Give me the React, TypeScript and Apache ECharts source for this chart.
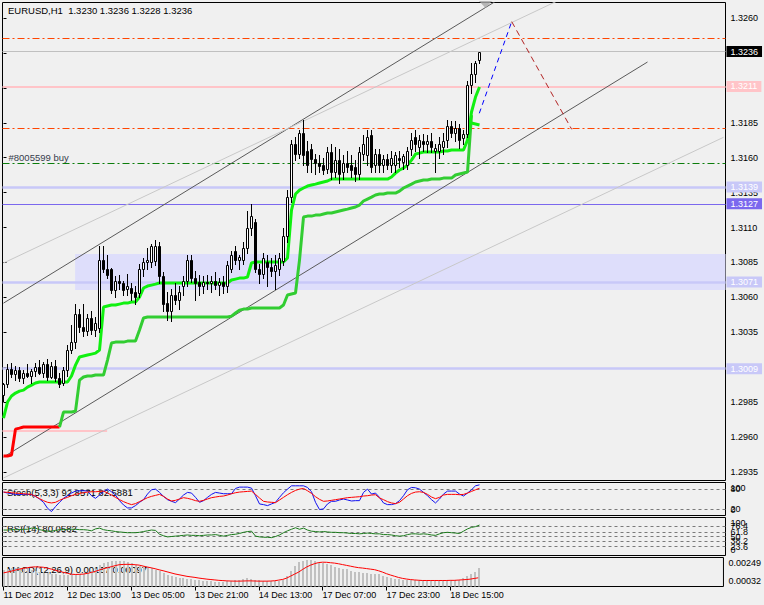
import React, { useEffect, useRef } from 'react';
import * as echarts from 'echarts';

// ---------------- data ----------------
const titleText = 'EURUSD,H1  1.3230 1.3236 1.3228 1.3236';
const stochTitle = 'Stoch(5,3,3) 92.8571 82.5881';
const rsiTitle = 'RSI(14) 80.0582';
const macdTitle = 'MACD(12,26,9) 0.00167 0.00097';

const timeLabelBars = [0, 16, 32, 48, 64, 80, 96, 112];
const timeLabels = ['11 Dec 2012', '12 Dec 13:00', '13 Dec 05:00', '13 Dec 21:00', '14 Dec 13:00', '17 Dec 07:00', '17 Dec 23:00', '18 Dec 15:00'];
const priceTickLabels = ['1.2935', '1.2960', '1.2985', '1.3010', '1.3035', '1.3060', '1.3085', '1.3110', '1.3135', '1.3160', '1.3185', '1.3210', '1.3235', '1.3260'];

const openP = [
  1.2990, 1.2998, 1.3009, 1.3005, 1.3008, 1.3002, 1.3006, 1.3004, 1.3007, 1.3010,
  1.3006, 1.3012, 1.3003, 1.3011, 1.3002, 1.2999, 1.3008, 1.3022, 1.3028, 1.3048,
  1.3039, 1.3036, 1.3045, 1.3037, 1.3038, 1.3087, 1.3080, 1.3080, 1.3065, 1.3072,
  1.3070, 1.3066, 1.3067, 1.3064, 1.3063, 1.3080, 1.3085, 1.3085, 1.3086, 1.3097,
  1.3075, 1.3056, 1.3050, 1.3062, 1.3058, 1.3068, 1.3072, 1.3087, 1.3074, 1.3071,
  1.3068, 1.3071, 1.3070, 1.3072, 1.3069, 1.3071, 1.3068, 1.3080, 1.3093, 1.3087,
  1.3087, 1.3095, 1.3110, 1.3114, 1.3080, 1.3077, 1.3085, 1.3082, 1.3079, 1.3080,
  1.3086, 1.3104, 1.3132, 1.3170, 1.3163, 1.3178, 1.3165, 1.3166, 1.3159, 1.3156,
  1.3155, 1.3152, 1.3164, 1.3150, 1.3158, 1.3150, 1.3156, 1.3155, 1.3153, 1.3148,
  1.3163, 1.3162, 1.3176, 1.3155, 1.3163, 1.3155, 1.3159, 1.3155, 1.3155, 1.3160,
  1.3157, 1.3155, 1.3166, 1.3175, 1.3168, 1.3172, 1.3170, 1.3172, 1.3165, 1.3165,
  1.3168, 1.3173, 1.3183, 1.3178, 1.3181, 1.3174, 1.3177, 1.3212, 1.3220, 1.3230,
];
const highP = [
  1.2999, 1.3012, 1.3013, 1.3011, 1.3010, 1.3008, 1.3012, 1.3009, 1.3013, 1.3015,
  1.3014, 1.3016, 1.3014, 1.3015, 1.3006, 1.3010, 1.3026, 1.3040, 1.3055, 1.3052,
  1.3055, 1.3048, 1.3050, 1.3046, 1.3097, 1.3097, 1.3090, 1.3081, 1.3075, 1.3076,
  1.3072, 1.3077, 1.3070, 1.3068, 1.3084, 1.3088, 1.3095, 1.3098, 1.3101, 1.3100,
  1.3078, 1.3064, 1.3066, 1.3070, 1.3068, 1.3075, 1.3090, 1.3090, 1.3079, 1.3076,
  1.3075, 1.3076, 1.3075, 1.3078, 1.3074, 1.3075, 1.3086, 1.3093, 1.3097, 1.3090,
  1.3100, 1.3122, 1.3127, 1.3116, 1.3084, 1.3092, 1.3090, 1.3088, 1.3090, 1.3092,
  1.3110, 1.3137, 1.3173, 1.3175, 1.3180, 1.3187, 1.3172, 1.3170, 1.3163, 1.3162,
  1.3160, 1.3168, 1.3170, 1.3168, 1.3166, 1.3162, 1.3165, 1.3162, 1.3158, 1.3168,
  1.3176, 1.3180, 1.3180, 1.3166, 1.3166, 1.3162, 1.3163, 1.3165, 1.3164, 1.3165,
  1.3163, 1.3168, 1.3178, 1.3180, 1.3176, 1.3177, 1.3176, 1.3178, 1.3170, 1.3175,
  1.3178, 1.3187, 1.3186, 1.3186, 1.3184, 1.3180, 1.3215, 1.3228, 1.3229, 1.3236,
];
const lowP = [
  1.2986, 1.2996, 1.3003, 1.3001, 1.3000, 1.2999, 1.3003, 1.2999, 1.3004, 1.3005,
  1.3003, 1.3001, 1.3002, 1.3000, 1.2996, 1.2997, 1.3004, 1.3020, 1.3024, 1.3035,
  1.3032, 1.3033, 1.3034, 1.3032, 1.3035, 1.3078, 1.3074, 1.3063, 1.3060, 1.3066,
  1.3062, 1.3062, 1.3058, 1.3055, 1.3060, 1.3075, 1.3080, 1.3082, 1.3083, 1.3070,
  1.3050, 1.3044, 1.3043, 1.3055, 1.3052, 1.3062, 1.3068, 1.3071, 1.3058, 1.3062,
  1.3063, 1.3066, 1.3064, 1.3066, 1.3062, 1.3063, 1.3064, 1.3078, 1.3084, 1.3080,
  1.3084, 1.3092, 1.3105, 1.3078, 1.3070, 1.3074, 1.3068, 1.3075, 1.3066, 1.3076,
  1.3083, 1.3100, 1.3128, 1.3158, 1.3160, 1.3155, 1.3150, 1.3150, 1.3148, 1.3150,
  1.3148, 1.3149, 1.3145, 1.3146, 1.3142, 1.3145, 1.3150, 1.3146, 1.3143, 1.3145,
  1.3158, 1.3155, 1.3150, 1.3150, 1.3150, 1.3150, 1.3152, 1.3150, 1.3150, 1.3153,
  1.3152, 1.3152, 1.3162, 1.3165, 1.3160, 1.3165, 1.3164, 1.3164, 1.3150, 1.3160,
  1.3163, 1.3168, 1.3175, 1.3172, 1.3167, 1.3170, 1.3175, 1.3206, 1.3214, 1.3228,
];
const closeP = [
  1.2998, 1.3009, 1.3005, 1.3008, 1.3002, 1.3006, 1.3004, 1.3007, 1.3010, 1.3006,
  1.3012, 1.3003, 1.3011, 1.3002, 1.2998, 1.3008, 1.3022, 1.3028, 1.3048, 1.3039,
  1.3036, 1.3045, 1.3037, 1.3042, 1.3087, 1.3080, 1.3076, 1.3065, 1.3072, 1.3070,
  1.3065, 1.3068, 1.3063, 1.3060, 1.3080, 1.3085, 1.3087, 1.3097, 1.3097, 1.3075,
  1.3055, 1.3050, 1.3062, 1.3058, 1.3064, 1.3072, 1.3087, 1.3074, 1.3070, 1.3068,
  1.3071, 1.3070, 1.3072, 1.3069, 1.3071, 1.3068, 1.3083, 1.3090, 1.3087, 1.3089,
  1.3095, 1.3110, 1.3118, 1.3080, 1.3077, 1.3088, 1.3082, 1.3079, 1.3083, 1.3088,
  1.3104, 1.3132, 1.3170, 1.3163, 1.3178, 1.3162, 1.3155, 1.3159, 1.3156, 1.3154,
  1.3151, 1.3164, 1.3150, 1.3158, 1.3148, 1.3156, 1.3153, 1.3151, 1.3148, 1.3164,
  1.3170, 1.3175, 1.3153, 1.3163, 1.3155, 1.3159, 1.3155, 1.3160, 1.3162, 1.3158,
  1.3161, 1.3165, 1.3173, 1.3170, 1.3173, 1.3170, 1.3172, 1.3168, 1.3167, 1.3170,
  1.3172, 1.3183, 1.3178, 1.3181, 1.3173, 1.3177, 1.3212, 1.3220, 1.3228, 1.3236,
];

// trailing-stop style step lines (start bar + values)
const redStopStart = 0;
const redStop = [1.29464, 1.29464, 1.29471, 1.29657, 1.29664, 1.29672, 1.29672, 1.29672, 1.29672, 1.29672, 1.29672, 1.29672, 1.29672, 1.29672, 1.29672];
const greenStopStart = 14;
const greenStop = [
  1.29672,
  1.29779, 1.29779, 1.29779, 1.29786,
  1.30008, 1.30030, 1.30037, 1.30037, 1.30044, 1.30044, 1.30044,
  1.30151, 1.30273, 1.30280, 1.30280, 1.30280, 1.30287, 1.30287, 1.30287,
  1.30366, 1.30452,
  1.30459, 1.30459, 1.30459, 1.30459, 1.30459, 1.30459, 1.30459, 1.30459, 1.30459, 1.30459, 1.30459,
  1.30459, 1.30459, 1.30459, 1.30459, 1.30459, 1.30459, 1.30459, 1.30459, 1.30459, 1.30459,
  1.30466, 1.30488, 1.30509, 1.30516, 1.30516,
  1.30524, 1.30524, 1.30524, 1.30524, 1.30524, 1.30524, 1.30524, 1.30524,
  1.30545, 1.30617, 1.30624, 1.30631,
  1.30867, 1.31175, 1.31182, 1.31182, 1.31189, 1.31189,
  1.31197, 1.31204, 1.31204, 1.31211, 1.31218, 1.31225, 1.31232, 1.31240, 1.31247, 1.31261,
  1.31290, 1.31304, 1.31318, 1.31333, 1.31340, 1.31340, 1.31347, 1.31347, 1.31347, 1.31361,
  1.31383, 1.31397, 1.31411, 1.31426, 1.31433, 1.31440, 1.31440, 1.31447, 1.31447, 1.31447,
  1.31454, 1.31454, 1.31454, 1.31476, 1.31483, 1.31490, 1.31497, 1.31905,
];
const limeStopStart = 0;
const limeStop = [
  1.29736, 1.29851, 1.29894, 1.29915, 1.29929, 1.29936, 1.29958, 1.29972, 1.29987, 1.29994,
  1.29994, 1.29994, 1.29994, 1.29994, 1.29994, 1.29994, 1.29994, 1.30037, 1.30115, 1.30173,
  1.30180, 1.30187, 1.30194, 1.30201, 1.30223, 1.30531, 1.30538, 1.30545, 1.30545, 1.30552,
  1.30559, 1.30559, 1.30567, 1.30567, 1.30602, 1.30667, 1.30681, 1.30688, 1.30695, 1.30703,
  1.30703, 1.30703, 1.30703, 1.30703, 1.30703, 1.30703, 1.30703, 1.30703, 1.30703, 1.30703,
  1.30703, 1.30703, 1.30703, 1.30703, 1.30703, 1.30703, 1.30703, 1.30724, 1.30731, 1.30738,
  1.30738, 1.30746, 1.30846, 1.30853, 1.30853, 1.30853, 1.30853, 1.30853, 1.30853, 1.30853,
  1.30853, 1.30882, 1.31225, 1.31340, 1.31368, 1.31383, 1.31397, 1.31404, 1.31411, 1.31419,
  1.31426, 1.31433, 1.31447, 1.31447, 1.31447, 1.31447, 1.31447, 1.31447, 1.31447, 1.31447,
  1.31447, 1.31447, 1.31447, 1.31447, 1.31447, 1.31447, 1.31447, 1.31462, 1.31490, 1.31512,
  1.31526, 1.31547, 1.31583, 1.31626, 1.31633, 1.31641, 1.31641, 1.31641, 1.31641, 1.31641,
  1.31648, 1.31648, 1.31655, 1.31655, 1.31655, 1.31655, 1.31726, 1.31927, 1.32034, 1.32106,
];
const limeForkStart = 117;
const limeFork = [1.31848, 1.31841, 1.31834];

// trend channels: [bar, price] end points
const upperChannel = [[0, 1.30559], [130, 1.32842]];
const lowerChannel = [[0, 1.29457], [161, 1.32285]];
const upperLightLine = [[0, 1.30846], [140, 1.32743]];
const lowerLightLine = [[0, 1.29307], [180, 1.31746]];
// projected zigzag
const projectionUp = [[118.95, 1.31918], [127.05, 1.32574]];
const projectionDown = [[127.05, 1.32574], [142.05, 1.31803]];
const shiftMarker = [[120.5, 1.32697]];

// horizontal levels
const orangeLevels = [1.32455, 1.3181];
const bidPrice = 1.3236;
const pinkLevel = 1.3211;
const orderPrice = 1.3156;
const orderLabel = '#8005599 buy';
const lavenderLevels = [1.3139, 1.3071, 1.3009];
const slateLevel = 1.3127;
const shortPinkLevel = 1.29643;
const shortPinkBars = [-0.25, 25.9];
const zoneFromBar = 17.9;
const zoneTop = 1.3091;
const zoneBottom = 1.30652;

// indicators
const stochMain = [
  71, 68, 66, 64, 64, 64, 64, 63, 58, 50,
  40, 22, 12, 27, 40, 52, 60, 68, 74, 75,
  75, 74, 60, 52, 62, 72, 80, 72, 62, 45,
  32, 23, 23, 30, 40, 48, 65, 78, 80, 70,
  58, 48, 43, 39, 50, 62, 70, 68, 55, 40,
  45, 55, 64, 70, 68, 66, 66, 66, 82, 86,
  86, 86, 83, 60, 35, 33, 30, 35, 40, 55,
  69, 80, 90, 90, 90, 90, 85, 72, 40, 18,
  20, 35, 43, 43, 47, 50, 47, 44, 45, 45,
  70, 80, 65, 68, 55, 38, 33, 33, 36, 45,
  60, 78, 85, 84, 80, 70, 60, 48, 38, 50,
  65, 74, 74, 74, 65, 59, 68, 78, 90, 92.86,
];
const stochSignal = [
  71, 70, 69, 68, 67, 66, 65, 64, 58, 51,
  45, 40, 38, 40, 46, 51, 55, 60, 64, 67,
  69, 71, 72, 72, 73, 74, 68, 62, 55, 48,
  42, 37, 33, 36, 42, 48, 54, 58, 61, 64,
  58, 50, 44, 46, 50, 54, 52, 49, 45, 43,
  46, 50, 54, 56, 58, 59, 62, 66, 69, 71,
  72, 73, 74, 64, 53, 43, 41, 40, 39, 47,
  55, 63, 70, 76, 80, 82, 75, 67, 57, 49,
  43, 44, 46, 48, 50, 52, 54, 55, 56, 57,
  59, 60, 62, 63, 53, 48, 42, 38, 36, 40,
  50, 60, 67, 71, 72, 70, 64, 56, 51, 55,
  62, 64, 64, 64, 63, 64, 68, 73, 78, 82.59,
];
const stochLevels = [20, 80];
const stochEdges = [0, 100];
const rsiValues = [
  67, 67, 68, 68, 68, 69, 69, 72, 72, 68,
  66, 64, 64, 66, 68, 68, 69, 69, 69, 68,
  68, 67, 65, 70, 72, 68, 66, 65, 63, 62,
  61, 60, 60, 60, 61, 63, 65, 67, 66, 56,
  52, 49, 50, 51, 52, 53, 54, 53, 53, 52,
  53, 54, 54, 55, 53, 51, 53, 55, 56, 58,
  61, 63, 64, 51, 49, 48, 48, 47, 50, 54,
  60, 65, 69, 73, 69, 72, 67, 64, 63, 62,
  63, 62, 61, 61, 60, 60, 59, 58, 58, 57,
  58, 59, 58, 57, 57, 55, 55, 54, 52, 51,
  52, 55, 57, 57, 56, 57, 56, 54, 53, 57,
  60, 61, 60, 59, 58, 64, 70, 74, 76, 80.06,
];
const rsiLevels = [23.6, 38.2, 50, 61.8, 76.4];
const rsiEdges = [0, 100];
const macdHist = [
  0.00159, 0.00165, 0.00170, 0.00172, 0.00170, 0.00167, 0.00160, 0.00152, 0.00146, 0.00140,
  0.00134, 0.00130, 0.00126, 0.00122, 0.00120, 0.00118, 0.00118, 0.00120, 0.00122, 0.00125,
  0.00128, 0.00135, 0.00150, 0.00165, 0.00190, 0.00205, 0.00215, 0.00221, 0.00222, 0.00222,
  0.00220, 0.00215, 0.00205, 0.00195, 0.00189, 0.00185, 0.00180, 0.00170, 0.00158, 0.00146,
  0.00130, 0.00115, 0.00109, 0.00103, 0.00097, 0.00094, 0.00090, 0.00087, 0.00083, 0.00079,
  0.00076, 0.00074, 0.00070, 0.00068, 0.00067, 0.00068, 0.00070, 0.00075, 0.00080, 0.00084,
  0.00088, 0.00092, 0.00090, 0.00084, 0.00080, 0.00076, 0.00072, 0.00070, 0.00070, 0.00072,
  0.00080, 0.00110, 0.00150, 0.00184, 0.00215, 0.00225, 0.00229, 0.00229, 0.00225, 0.00215,
  0.00205, 0.00197, 0.00190, 0.00180, 0.00172, 0.00165, 0.00160, 0.00150, 0.00142, 0.00139,
  0.00135, 0.00132, 0.00128, 0.00125, 0.00122, 0.00110, 0.00100, 0.00097, 0.00090, 0.00086,
  0.00084, 0.00084, 0.00083, 0.00082, 0.00080, 0.00079, 0.00078, 0.00077, 0.00077, 0.00077,
  0.00077, 0.00077, 0.00078, 0.00080, 0.00084, 0.00097, 0.00109, 0.00125, 0.00140, 0.00167,
];
const macdSignal = [
  0.00134, 0.00140, 0.00147, 0.00155, 0.00162, 0.00168, 0.00173, 0.00177, 0.00179, 0.00178,
  0.00176, 0.00170, 0.00162, 0.00153, 0.00146, 0.00138, 0.00131, 0.00124, 0.00122, 0.00123,
  0.00125, 0.00130, 0.00137, 0.00145, 0.00155, 0.00165, 0.00172, 0.00180, 0.00188, 0.00195,
  0.00197, 0.00198, 0.00197, 0.00195, 0.00192, 0.00185, 0.00178, 0.00172, 0.00165, 0.00157,
  0.00150, 0.00142, 0.00134, 0.00126, 0.00120, 0.00114, 0.00108, 0.00104, 0.00100, 0.00095,
  0.00091, 0.00087, 0.00084, 0.00081, 0.00078, 0.00076, 0.00074, 0.00073, 0.00072, 0.00072,
  0.00073, 0.00074, 0.00074, 0.00073, 0.00072, 0.00072, 0.00072, 0.00073, 0.00075, 0.00080,
  0.00085, 0.00095, 0.00110, 0.00125, 0.00140, 0.00160, 0.00178, 0.00192, 0.00203, 0.00211,
  0.00214, 0.00213, 0.00210, 0.00207, 0.00202, 0.00196, 0.00190, 0.00184, 0.00178, 0.00173,
  0.00170, 0.00166, 0.00162, 0.00158, 0.00150, 0.00140, 0.00128, 0.00118, 0.00109, 0.00100,
  0.00093, 0.00088, 0.00084, 0.00081, 0.00079, 0.00077, 0.00077, 0.00077, 0.00077, 0.00077,
  0.00077, 0.00077, 0.00078, 0.00078, 0.00080, 0.00082, 0.00084, 0.00087, 0.00092, 0.00097,
];
const macdTicks = [0.00032, 0.00249];

// ---------------- chart ----------------
const FONT = 'Liberation Sans';
const X_MIN = -0.25;
const X_MAX = 180.5;
const P_MIN = 1.2928914;
const P_MAX = 1.3271096;

const fromStart = (start: number, arr: number[]) => arr.map((v, k) => [start + k, v]);

const edgeRich = {
  t: { padding: [11, 0, 0, 0], fontFamily: FONT, fontSize: 9, color: '#000' },
  b: { padding: [0, 0, 11, 0], fontFamily: FONT, fontSize: 9, color: '#000' },
};

function buildOption() {
  const bars = openP.map((o, i) => [i, o, closeP[i], lowP[i], highP[i]]);
  const closeData = fromStart(0, closeP);
  const gridsDef = [
    { top: 2.5, height: 478 },
    { top: 482.5, height: 33 },
    { top: 517.5, height: 38 },
    { top: 557.5, height: 29 },
  ];
  const grid = gridsDef.map((g) => ({
    left: 2.5, width: 723, top: g.top, height: g.height,
    show: true, borderColor: '#000', borderWidth: 1, backgroundColor: 'transparent',
  }));
  const xAxis = gridsDef.map((_, gi) => ({
    type: 'value', gridIndex: gi, min: X_MIN, max: X_MAX, show: gi === 3,
    axisLine: { show: false }, splitLine: { show: false },
    axisTick: { show: true, customValues: timeLabelBars, length: 4, lineStyle: { color: '#000' } },
    axisLabel: {
      customValues: timeLabelBars, align: 'left', margin: 4, color: '#000', fontFamily: FONT, fontSize: 9,
      showMinLabel: true, showMaxLabel: true, hideOverlap: false,
      formatter: (v: number) => { const k = timeLabelBars.indexOf(v); return k >= 0 ? timeLabels[k] : ''; },
    },
  }));
  const baseY = {
    type: 'value', position: 'right', splitLine: { show: false }, axisLine: { show: false },
  };
  const labelBase = { margin: 5, color: '#000', fontFamily: FONT, fontSize: 9, showMinLabel: true, showMaxLabel: true, hideOverlap: false };
  const priceTicks = priceTickLabels.map(Number);
  const edgeFormatter = (hi: number, digits: number) => (v: number) =>
    (v === hi ? `{t|${v.toFixed(digits)}}` : `{b|${v.toFixed(digits)}}`);
  const yAxis = [
    {
      ...baseY, gridIndex: 0, min: P_MIN, max: P_MAX,
      axisTick: { show: true, customValues: priceTicks, length: 3, lineStyle: { color: '#000' } },
      axisLabel: { ...labelBase, customValues: priceTicks, formatter: (v: number) => v.toFixed(4) },
    },
    {
      ...baseY, gridIndex: 1, min: stochEdges[0], max: stochEdges[1],
      axisTick: { show: true, customValues: stochLevels, length: 3, lineStyle: { color: '#000' } },
      axisLabel: { ...labelBase, customValues: stochEdges, rich: edgeRich, formatter: edgeFormatter(stochEdges[1], 0) },
    },
    {
      ...baseY, gridIndex: 2, min: rsiEdges[0], max: rsiEdges[1],
      axisTick: { show: true, customValues: rsiLevels, length: 3, lineStyle: { color: '#000' } },
      axisLabel: { ...labelBase, customValues: rsiEdges, rich: edgeRich, formatter: edgeFormatter(rsiEdges[1], 0) },
    },
    {
      ...baseY, gridIndex: 3, min: macdTicks[0], max: macdTicks[1],
      axisTick: { show: false },
      axisLabel: { ...labelBase, customValues: macdTicks, rich: edgeRich, formatter: edgeFormatter(macdTicks[1], 5) },
    },
  ];

  const boxLabel = (bg: string, value: number) => ({
    show: true, position: 'end', distance: 1, formatter: value.toFixed(4),
    color: '#fff', backgroundColor: bg, padding: [1, 4, 0, 4],
    fontFamily: FONT, fontSize: 9, lineHeight: 10,
  });
  const lavender = '#c8c8f8';

  const levelLines: any[] = [
    ...orangeLevels.map((v) => ({ yAxis: v, lineStyle: { color: '#ff4500', width: 1, type: [7, 3, 2, 3] } })),
    { yAxis: bidPrice, lineStyle: { color: '#c0c0c0', width: 1, type: 'solid' }, label: boxLabel('#000000', bidPrice) },
    { yAxis: pinkLevel, lineStyle: { color: '#ffc4c8', width: 2, type: 'solid' }, label: boxLabel('#ffc4c8', pinkLevel) },
    {
      yAxis: orderPrice, lineStyle: { color: '#0b7d0b', width: 1, type: [7, 3, 2, 3] },
      label: { show: true, position: 'insideStartTop', distance: [6, 1], formatter: orderLabel, color: '#363c4c', fontFamily: FONT, fontSize: 9.5 },
    },
    ...lavenderLevels.map((v) => ({ yAxis: v, lineStyle: { color: lavender, width: 2.5, type: 'solid' }, label: boxLabel(lavender, v) })),
    { yAxis: slateLevel, lineStyle: { color: '#7b68ee', width: 1, type: 'solid' }, label: boxLabel('#7b68ee', slateLevel) },
  ];

  const levelLabel = (text: string) => ({
    show: true, position: 'end', distance: 5, formatter: text, color: '#000', fontFamily: FONT, fontSize: 9,
  });
  const dashedLevels = (values: number[]) => ({
    silent: true, z: 2, symbol: ['none', 'none'], precision: 6,
    lineStyle: { color: '#7a7a7a', width: 1, type: [3, 3] },
    data: values.map((v) => ({ yAxis: v, label: levelLabel(String(v)) })),
  });

  const lineBase = (name: string, data: any[], color: string, width: number, z: number, type: any = 'solid') => ({
    name, type: 'line', xAxisIndex: 0, yAxisIndex: 0, data, showSymbol: false, symbol: 'none', silent: true, z,
    lineStyle: { color, width, type }, emphasis: { disabled: true },
  });

  const series: any[] = [
    {
      name: 'zone', type: 'line', xAxisIndex: 0, yAxisIndex: 0, data: closeData, showSymbol: false, symbol: 'none',
      silent: true, z: 1, lineStyle: { opacity: 0, width: 0 },
      markArea: {
        silent: true, z: 1, precision: 6,
        itemStyle: { color: '#dedefb' },
        data: [[{ xAxis: zoneFromBar, yAxis: zoneTop }, { xAxis: X_MAX, yAxis: zoneBottom }]],
      },
    },
    {
      name: 'levels', type: 'line', xAxisIndex: 0, yAxisIndex: 0, data: closeData, showSymbol: false, symbol: 'none',
      silent: true, z: 3, lineStyle: { opacity: 0, width: 0 },
      markLine: { silent: true, z: 3, precision: 6, symbol: ['none', 'none'], label: { show: false }, emphasis: { disabled: true }, data: levelLines },
    },
    lineBase('shortPink', shortPinkBars.map((b) => [b, shortPinkLevel]), '#ffc4c8', 2, 3),
    lineBase('upperChannel', upperChannel, '#5a5a5a', 1, 4),
    lineBase('lowerChannel', lowerChannel, '#5a5a5a', 1, 4),
    lineBase('upperLight', upperLightLine, '#c8c8c8', 1, 4),
    lineBase('lowerLight', lowerLightLine, '#c8c8c8', 1, 4),
    lineBase('redStop', fromStart(redStopStart, redStop), '#ff0000', 3, 5),
    lineBase('greenStop', fromStart(greenStopStart, greenStop), '#32cd32', 3, 5),
    lineBase('limeStop', fromStart(limeStopStart, limeStop), '#10f010', 3, 6),
    lineBase('limeFork', fromStart(limeForkStart, limeFork), '#10f010', 3, 6),
    lineBase('projUp', projectionUp, '#0000ff', 1, 6, [5, 4]),
    lineBase('projDown', projectionDown, '#b22222', 1, 6, [6, 4]),
    {
      type: 'custom', name: 'candles', xAxisIndex: 0, yAxisIndex: 0, z: 10, silent: true,
      data: bars, encode: { x: 0, y: [1, 2, 3, 4] },
      renderItem: (params: any, api: any) => {
        const i = api.value(0);
        const o = api.value(1), c = api.value(2), l = api.value(3), h = api.value(4);
        const po = api.coord([i, o]);
        const pc = api.coord([i, c]);
        const pl = api.coord([i, l]);
        const ph = api.coord([i, h]);
        const xc = Math.floor(po[0]) + 0.5;
        const yTop = Math.round(Math.min(po[1], pc[1])) + 0.5;
        const yBot = Math.round(Math.max(po[1], pc[1])) + 0.5;
        const bull = c >= o;
        return {
          type: 'group',
          children: [
            { type: 'line', shape: { x1: xc, y1: Math.round(ph[1]), x2: xc, y2: Math.round(pl[1]) + 1 }, style: { stroke: '#000', lineWidth: 1 } },
            { type: 'rect', shape: { x: xc - 1, y: yTop, width: 2, height: Math.max(yBot - yTop, 0) }, style: { fill: bull ? '#fff' : '#000', stroke: '#000', lineWidth: 1 } },
          ],
        };
      },
    },
    {
      type: 'scatter', xAxisIndex: 0, yAxisIndex: 0, data: shiftMarker, symbol: 'triangle', symbolRotate: 180,
      symbolSize: [13, 7], itemStyle: { color: '#a8a8a8' }, silent: true, z: 11,
    },
    // Stochastic
    {
      type: 'line', xAxisIndex: 1, yAxisIndex: 1, data: fromStart(0, stochMain), showSymbol: false, symbol: 'none', silent: true, z: 5,
      lineStyle: { color: '#1010f0', width: 1 },
      markLine: dashedLevels(stochLevels),
    },
    {
      type: 'line', xAxisIndex: 1, yAxisIndex: 1, data: fromStart(0, stochSignal), showSymbol: false, symbol: 'none', silent: true, z: 6,
      lineStyle: { color: '#ff0000', width: 1 },
    },
    // RSI
    {
      type: 'line', xAxisIndex: 2, yAxisIndex: 2, data: fromStart(0, rsiValues), showSymbol: false, symbol: 'none', silent: true, z: 5,
      lineStyle: { color: '#1a7a1a', width: 1 },
      markLine: dashedLevels(rsiLevels),
    },
    // MACD
    {
      type: 'custom', xAxisIndex: 3, yAxisIndex: 3, data: fromStart(0, macdHist), encode: { x: 0, y: 1 }, silent: true, z: 4,
      renderItem: (params: any, api: any) => {
        const p = api.coord([api.value(0), api.value(1)]);
        const cs = params.coordSys;
        const bottom = cs.y + cs.height;
        const top = Math.max(Math.round(p[1]), cs.y);
        return { type: 'rect', shape: { x: Math.floor(p[0]), y: top, width: 2, height: bottom - top }, style: { fill: '#c0c0c0' } };
      },
    },
    {
      type: 'line', xAxisIndex: 3, yAxisIndex: 3, data: fromStart(0, macdSignal), showSymbol: false, symbol: 'none', silent: true, z: 6,
      lineStyle: { color: '#ff0000', width: 1 },
    },
  ];

  const textEl = (text: string, x: number, y: number, size: number) => ({
    type: 'text', x, y, z: 0, silent: true,
    style: { text, fill: '#000', font: `${size}px "${FONT}"`, verticalAlign: 'middle', align: 'left' },
  });

  return {
    animation: false,
    backgroundColor: '#f0f0f0',
    textStyle: { fontFamily: FONT },
    grid, xAxis, yAxis, series,
    graphic: [
      textEl(titleText, 8, 10.5, 9.5),
      textEl(stochTitle, 7, 492.5, 9.5),
      textEl(rsiTitle, 7, 528, 9.5),
      textEl(macdTitle, 7, 569.5, 9.5),
    ],
  };
}

export default function App() {
  const ref = useRef<HTMLDivElement>(null);
  useEffect(() => {
    if (!ref.current) return;
    const chart = echarts.init(ref.current, null, { renderer: 'svg' });
    chart.setOption(buildOption() as any);
    return () => chart.dispose();
  }, []);
  return (
    <div
      ref={ref}
      style={{ position: 'fixed', left: 0, top: 0, width: 764, height: 605, background: '#f0f0f0' }}
    />
  );
}
